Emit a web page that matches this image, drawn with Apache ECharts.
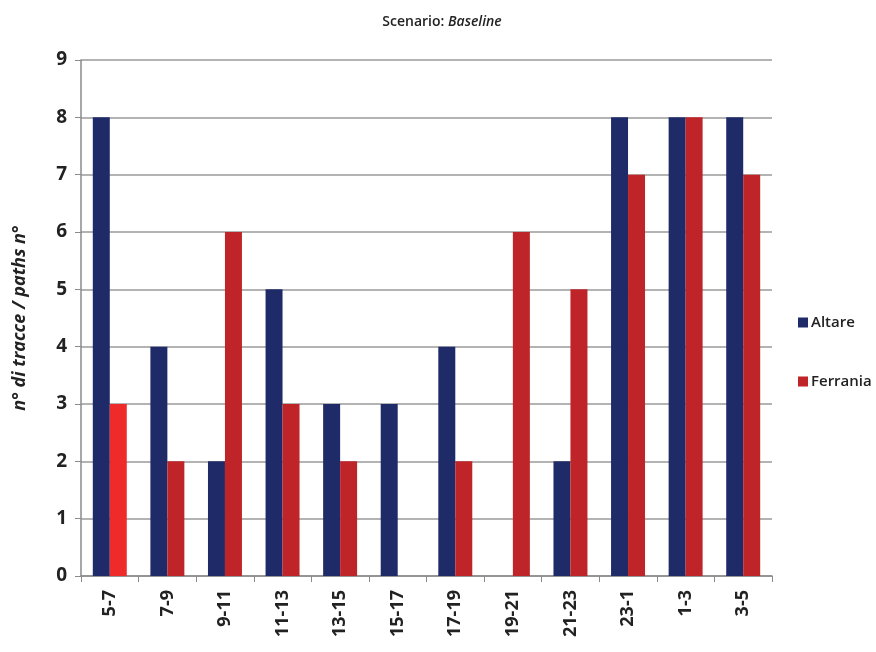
<!DOCTYPE html>
<html>
<head>
<meta charset="utf-8">
<script src="https://cdn.jsdelivr.net/npm/echarts@6/dist/echarts.min.js"></script>
<style>
  html, body { margin: 0; padding: 0; background: #fff; }
  #chart { width: 876px; height: 652px; }
</style>
</head>
<body>
<div id="chart"></div>
<script>
// Time slots (hour ranges) and number of paths per site
const categories = ['5-7', '7-9', '9-11', '11-13', '13-15', '15-17', '17-19', '19-21', '21-23', '23-1', '1-3', '3-5'];
const altare = [8, 4, 2, 5, 3, 3, 4, 0, 2, 8, 8, 8];
const ferrania = [3, 2, 6, 3, 2, 0, 2, 6, 5, 7, 8, 7];
const yTicks = [0, 1, 2, 3, 4, 5, 6, 7, 8, 9];

const FONT = '"Open Sans", "DejaVu Sans", sans-serif';
const NAVY = '#1f2a68';
const RED = '#bf2428';
const BRIGHT_RED = '#ee2a2a';

const chart = echarts.init(document.getElementById('chart'), null, { renderer: 'canvas' });

// first Ferrania bar is drawn in a brighter red
const ferraniaData = ferrania.map((v, i) => i === 0 ? { value: v, itemStyle: { color: BRIGHT_RED } } : v);

chart.setOption({
  backgroundColor: '#ffffff',
  animation: false,
  title: {
    text: '{n|Scenario: }{i|Baseline}',
    left: 437,
    top: 10,
    textAlign: 'center',
    textStyle: {
      rich: {
        n: { fontFamily: FONT, fontSize: 14, color: '#222', fontWeight: 600 },
        i: { fontFamily: FONT, fontSize: 14, color: '#222', fontWeight: 600, fontStyle: 'italic' }
      }
    }
  },
  legend: {
    orient: 'vertical',
    left: 793,
    top: 310,
    itemGap: 44,
    itemWidth: 10,
    itemHeight: 10,
    icon: 'rect',
    textStyle: { fontFamily: FONT, fontSize: 15, fontWeight: 600, color: '#222', padding: [0, 0, 0, -2] },
    data: ['Altare', 'Ferrania']
  },
  grid: { left: 81, right: 104, top: 60, bottom: 76, containLabel: false },
  xAxis: {
    type: 'category',
    data: categories,
    axisLine: { show: true, lineStyle: { color: '#8a8a8a', width: 1.5 } },
    axisTick: { show: true, length: 6, lineStyle: { color: '#8a8a8a' } },
    axisLabel: {
      rotate: 90,
      margin: 14,
      fontFamily: FONT,
      fontSize: 18,
      fontWeight: 'bold',
      color: '#222'
    }
  },
  yAxis: {
    type: 'value',
    min: yTicks[0],
    max: yTicks[yTicks.length - 1],
    interval: 1,
    name: 'n° di tracce / paths n°',
    nameLocation: 'middle',
    nameGap: 52,
    nameRotate: 90,
    nameTextStyle: { fontFamily: FONT, fontSize: 18, fontWeight: 'bold', fontStyle: 'italic', color: '#222' },
    axisLine: { show: true, lineStyle: { color: '#8a8a8a', width: 1.5 } },
    axisTick: { show: true, length: 6, lineStyle: { color: '#8a8a8a' } },
    axisLabel: { fontFamily: FONT, fontSize: 19, fontWeight: 'bold', color: '#222', margin: 14 },
    splitLine: { show: true, lineStyle: { color: '#9a9a9a', width: 1.5 } }
  },
  series: [
    {
      name: 'Altare',
      type: 'bar',
      data: altare,
      itemStyle: { color: NAVY },
      barGap: '0%',
      barCategoryGap: '41%'
    },
    {
      name: 'Ferrania',
      type: 'bar',
      data: ferraniaData,
      itemStyle: { color: RED },
      barGap: '0%',
      barCategoryGap: '41%'
    }
  ]
});
</script>
</body>
</html>
